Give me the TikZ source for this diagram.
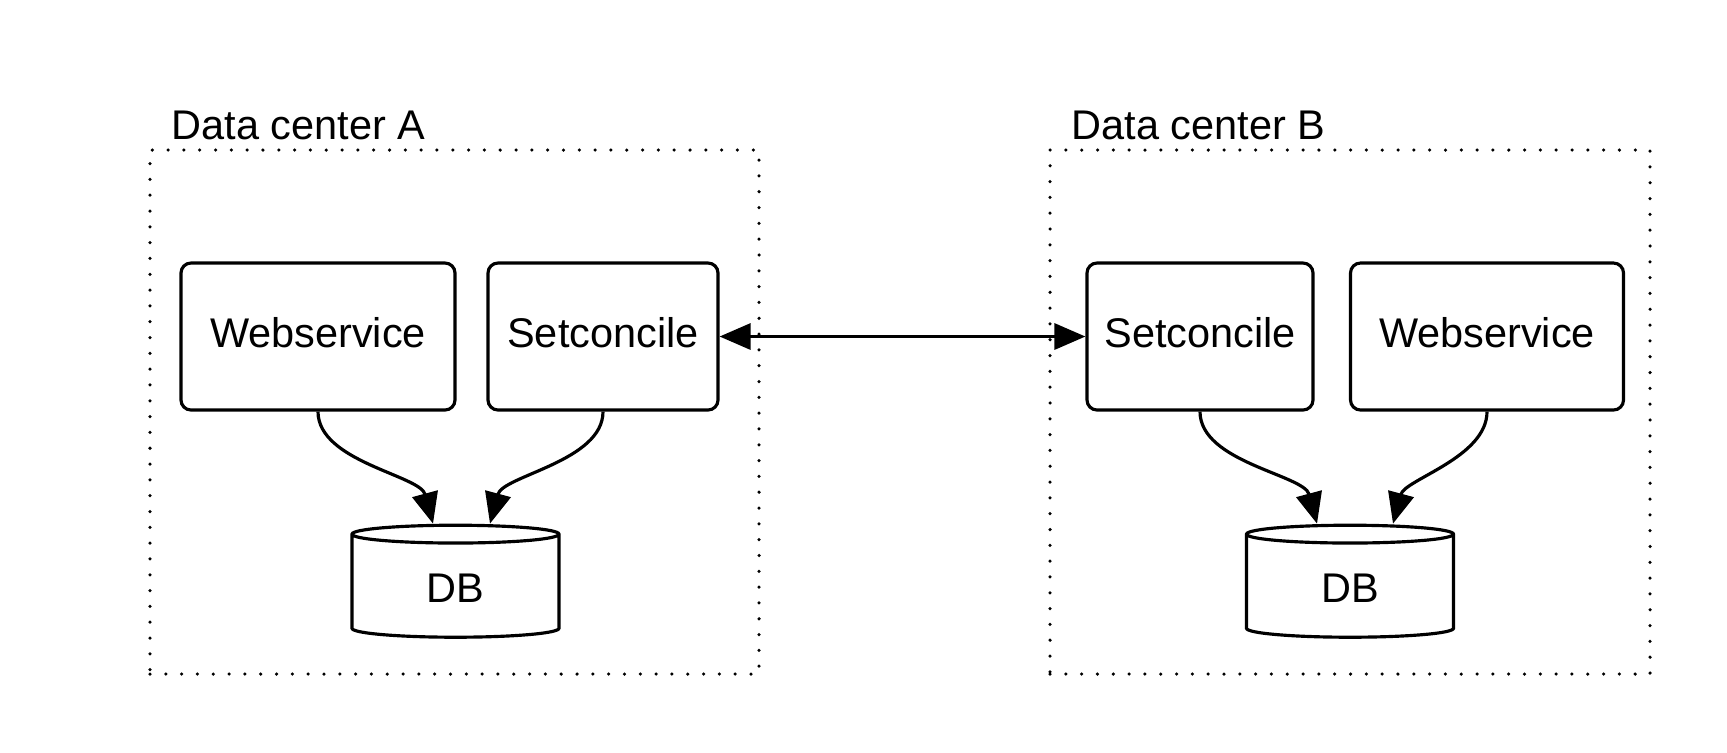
\documentclass[tikz,border=0pt]{standalone}
\usepackage{fontspec}
\setmainfont{Liberation Sans}
\usepackage{tikz}
\usetikzlibrary{shapes.geometric}
\usetikzlibrary{arrows.meta}
\usetikzlibrary{positioning}

\begin{document}
\begin{tikzpicture}[>={Triangle[length=3.1mm,width=2.6mm]},line width=0.9pt,
	font=\fontsize{11.8}{14}\selectfont,
	service/.style={rectangle,draw,rounded corners=1mm,minimum height=1.47cm,text depth=2.5pt},
	database/.style={cylinder,draw,shape border rotate=90,aspect=0.22,
		minimum width=2.07cm,minimum height=1.12cm},
	center box/.style={rectangle,draw,line width=1pt,dash pattern=on 0pt off 4.5pt,
		line cap=round,outer sep=0pt,minimum height=5.24cm},
	center label/.style={anchor=base west,inner sep=0pt},
	store/.style={out=-90,looseness=0.8}]
	
	\useasboundingbox (0,0) rectangle (17.27,-7.52);
	
	\node[center box,minimum width=6.09cm] (dcA) at (4.545,-4.12) {};
	\node[center box,minimum width=6.00cm] (dcB) at (13.50,-4.12) {};
	\node[center label] (labA) at ([xshift=2.0mm,yshift=1.1mm]dcA.north west) {Data center A};
	\node[center label] (labB) at ([xshift=2.0mm,yshift=1.1mm]dcB.north west) {Data center B};
	
	\node[service,minimum width=2.74cm] (wsA) at (3.18,-3.365) {Webservice};
	\node[service,minimum width=2.30cm] (scA) [right of=wsA,node distance=2.85cm] {Setconcile};
	\node[service,minimum width=2.26cm] (scB) [right of=scA,node distance=5.97cm] {Setconcile};
	\node[service,minimum width=2.73cm] (wsB) [right of=scB,node distance=2.87cm] {Webservice};
	
	\node[database] (dbA) at (4.555,-5.885) {DB};
	\node[database] (dbB) [right of=dbA,node distance=8.945cm] {DB};
	
	\path[->]
	(scA) edge [<->] (scB)
	(wsA.south) edge [store,in=105] ([xshift=-2.25mm]dbA.north)
	(scA.south) edge [store,in=75] ([xshift=3.45mm]dbA.north)
	(scB.south) edge [store,in=105] ([xshift=-3.3mm]dbB.north)
	(wsB.south) edge [store,in=75] ([xshift=4.3mm]dbB.north);
\end{tikzpicture}
\end{document}
